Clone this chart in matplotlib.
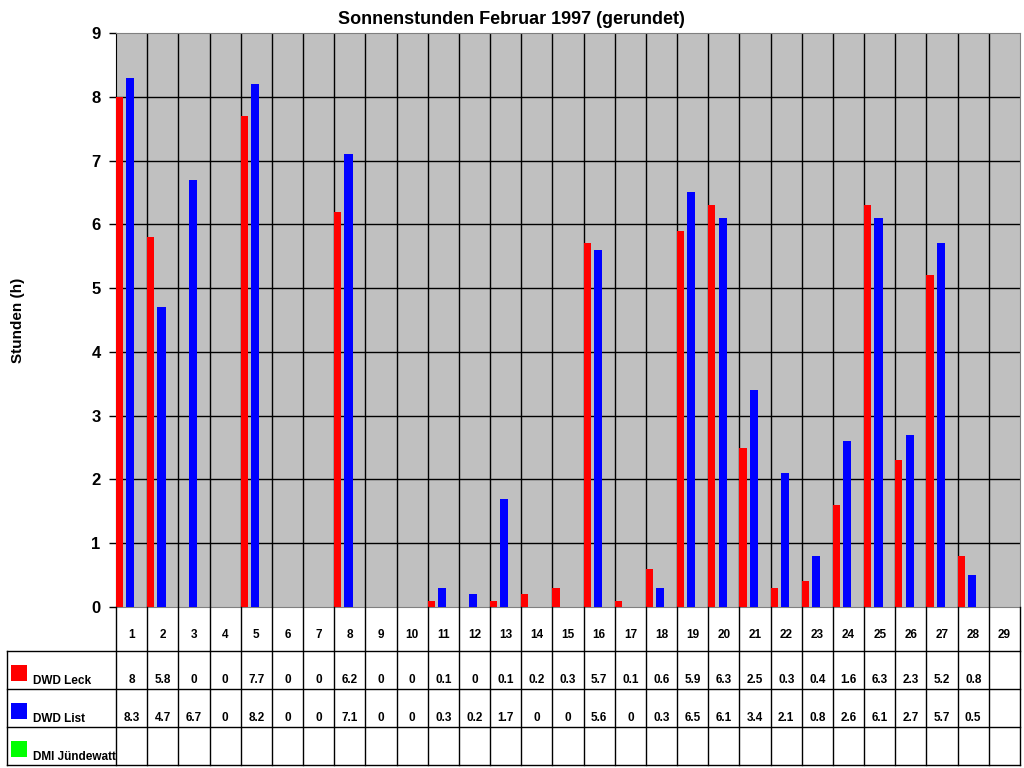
import numpy as np
import matplotlib
matplotlib.use("Agg")
import matplotlib.pyplot as plt
from matplotlib.transforms import blended_transform_factory
from matplotlib.patches import Rectangle

plt.rcParams['font.family'] = ['Liberation Sans', 'DejaVu Sans']

days = [str(d) for d in range(1, 30)]
leck = [8, 5.8, 0, 0, 7.7, 0, 0, 6.2, 0, 0, 0.1, 0, 0.1, 0.2, 0.3, 5.7, 0.1,
        0.6, 5.9, 6.3, 2.5, 0.3, 0.4, 1.6, 6.3, 2.3, 5.2, 0.8, None]
dwd_list = [8.3, 4.7, 6.7, 0, 8.2, 0, 0, 7.1, 0, 0, 0.3, 0.2, 1.7, 0, 0, 5.6, 0,
            0.3, 6.5, 6.1, 3.4, 2.1, 0.8, 2.6, 6.1, 2.7, 5.7, 0.5, None]
jundewatt = [None] * 29
series = [("DWD Leck", leck, "#ff0000"),
          ("DWD List", dwd_list, "#0000ff"),
          ("DMI Jündewatt", jundewatt, "#00ff00")]

W, H = 1024, 768
fig = plt.figure(figsize=(W / 100, H / 100), dpi=100)
ax = fig.add_axes([116 / W, 1 - 607 / H, 904 / W, 574 / H])
ax.set_facecolor("#c0c0c0")

n = len(days)
x = np.arange(n)
widths = [0.23, 0.26, 0.26]
offsets = [0.0, 0.33, 0.66]
for (name, vals, col), off, bw in zip(series, offsets, widths):
    v = np.array([np.nan if a is None else a for a in vals], dtype=float)
    ax.bar(x + off, v, width=bw, align="edge", color=col, linewidth=0, zorder=3)

ax.set_xlim(0, n)
ax.set_ylim(0, 9)
ax.set_yticks(range(0, 10))
ax.set_yticklabels([str(i) for i in range(10)], fontsize=12, fontweight="bold")
ax.set_xticks([])
for yv in range(1, 9):
    ax.axhline(yv, color="black", lw=1, zorder=2)
for xv in range(1, n):
    ax.axvline(xv, color="black", lw=1, zorder=2)
for s in ["top", "right", "bottom"]:
    ax.spines[s].set_color("#808080")
ax.spines["left"].set_color("black")
ax.tick_params(axis="y", length=5, width=1, pad=6)

fig.text(511 / W, 1 - 20 / H, "Sonnenstunden Februar 1997 (gerundet)",
         ha="center", va="center", fontsize=13, fontweight="bold")
fig.text(18 / W, 1 - 320 / H, "Stunden (h)", rotation=90, ha="center",
         va="center", fontsize=11, fontweight="bold")

# data table below the chart
ov = fig.add_axes([0, 0, 1, 1], zorder=5)
ov.set_xlim(0, W)
ov.set_ylim(H, 0)
ov.axis("off")
tr = blended_transform_factory(ax.transData, ov.transData)

rows_y = [607, 651, 689, 727, 765]
left_px = 7
for xv in range(0, n + 1):
    ov.plot([xv, xv], [rows_y[0], rows_y[-1]], color="black", lw=1,
            transform=tr, clip_on=False)
for yv in rows_y[1:]:
    ov.plot([left_px, 1020], [yv, yv], color="black", lw=1, clip_on=False)
ov.plot([left_px, left_px], [rows_y[1], rows_y[-1]], color="black", lw=1)

for i, d in enumerate(days):
    ov.text(i + 0.5, 635, d, transform=tr, ha="center", va="center",
            fontsize=8.5, fontweight="bold")

for r, (name, vals, col) in enumerate(series):
    y0 = rows_y[r + 1]
    y1 = rows_y[r + 2]
    ov.add_patch(Rectangle((11, y0 + 14), 16, 16, color=col, lw=0))
    ov.text(33, y1 - 5, name, ha="left", va="baseline", fontsize=8.5,
            fontweight="bold")
    for i, v in enumerate(vals):
        if v is None:
            continue
        ov.text(i + 0.5, y1 - 6, f"{v:g}", transform=tr, ha="center",
                va="baseline", fontsize=8.5, fontweight="bold")

fig.savefig("out.png", dpi=100)
